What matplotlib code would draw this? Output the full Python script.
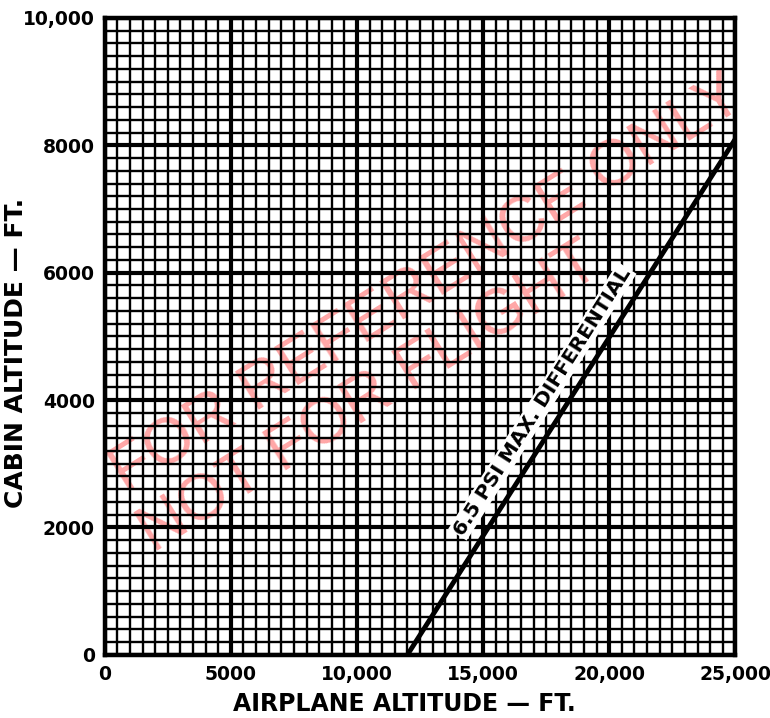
import numpy as np
import matplotlib.pyplot as plt

plt.rcParams['font.family'] = ['DejaVu Sans']

# data
airplane_alt = [12000, 25000]
cabin_alt = [0, 8100]
x_ticks = [0, 5000, 10000, 15000, 20000, 25000]
x_labels = ['0', '5000', '10,000', '15,000', '20,000', '25,000']
y_ticks = [0, 2000, 4000, 6000, 8000, 10000]
y_labels = ['0', '2000', '4000', '6000', '8000', '10,000']
line_label = '6.5 PSI MAX. DIFFERENTIAL'

fig = plt.figure(figsize=(7.7, 7.18), dpi=100)
ax = fig.add_axes([0.136, 0.088, 0.819, 0.887])
ax.set_xlim(0, 25000)
ax.set_ylim(0, 10000)

ax.set_xticks(x_ticks)
ax.set_xticklabels(x_labels, fontsize=13.5, fontweight='bold')
ax.set_yticks(y_ticks)
ax.set_yticklabels(y_labels, fontsize=13.5, fontweight='bold')
ax.set_xticks(np.arange(0, 25001, 500), minor=True)
ax.set_yticks(np.arange(0, 10001, 200), minor=True)
ax.tick_params(which='both', length=0)
ax.tick_params(axis='x', pad=7)
ax.tick_params(axis='y', pad=7)

ax.set_axisbelow(True)
ax.grid(which='minor', color='black', linewidth=1.7)
ax.grid(which='major', color='black', linewidth=3.0)
for s in ax.spines.values():
    s.set_linewidth(3.2)

ax.plot(airplane_alt, cabin_alt, color='black', linewidth=3.5, solid_capstyle='butt', zorder=3)
ax.text(17350, 3980, line_label, rotation=57.5, ha='center', va='center',
        fontsize=14.5, fontweight='bold', zorder=4,
        bbox=dict(facecolor='white', edgecolor='none', pad=1))

ax.set_xlabel('AIRPLANE ALTITUDE — FT.', fontsize=17, fontweight='bold')
ax.set_ylabel('CABIN ALTITUDE — FT.', fontsize=18, fontweight='bold')
ax.xaxis.set_label_coords(0.475, -0.058)
ax.yaxis.set_label_coords(-0.122, 0.474)

# watermark, behind the grid
for txt, xf, yf in [('FOR REFERENCE ONLY', 0.556, 0.603), ('NOT FOR FLIGHT', 0.48, 0.445)]:
    ax.text(xf, yf, txt, transform=fig.transFigure, rotation=32, ha='center', va='center',
            fontsize=46, family='Liberation Sans', color='#ffa6a6', zorder=0.2)

fig.savefig('out.png', dpi=100)
